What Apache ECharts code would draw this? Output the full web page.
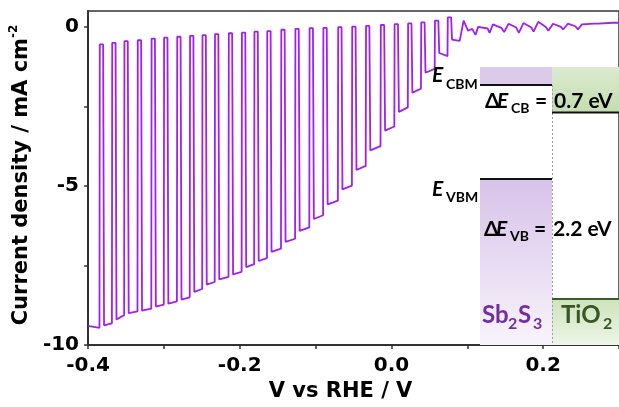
<!DOCTYPE html>
<html>
<head>
<meta charset="utf-8">
<script src="https://cdn.jsdelivr.net/npm/echarts@6/dist/echarts.min.js"></script>
<style>
  html, body { margin: 0; padding: 0; background: #fff; }
  #chart { width: 619px; height: 407px; }
</style>
</head>
<body>
<div id="chart"></div>
<script>
// Chopped-light scan of the Sb2S3/TiO2 photocathode.
// Potential (V vs RHE) at the centre of each dark interval.
const darkCentreV = [-0.3822, -0.3658, -0.3497, -0.3321, -0.3139, -0.2974, -0.2801, -0.2632, -0.2468,
  -0.2303, -0.2121, -0.1948, -0.1783, -0.1614, -0.1429, -0.1243, -0.1056, -0.0874, -0.0679, -0.0494,
  -0.0312, -0.0117, 0.0065, 0.0243, 0.0416, 0.0597, 0.0766];
// Dark current (mA cm-2) in each dark interval.
const darkJ = [-0.55, -0.50, -0.45, -0.42, -0.37, -0.34, -0.31, -0.28, -0.26, -0.23, -0.20, -0.18,
  -0.15, -0.13, -0.09, -0.06, -0.04, -0.03, -0.01, 0.01, 0.03, 0.06, 0.09, 0.11, 0.14, 0.20, 0.30];
// Photocurrent at the start and at the end of each illuminated interval.
const lightStartJ = [-9.40, -9.38, -9.20, -9.00, -8.92, -8.79, -8.70, -8.57, -8.33, -8.10, -7.94, -7.78,
  -7.55, -7.36, -7.07, -6.76, -6.41, -6.04, -5.58, -5.11, -4.50, -3.88, -3.26, -2.67, -2.07, -1.44,
  -0.82, -0.40];
const lightEndJ = [-9.46, -9.32, -9.06, -8.94, -8.86, -8.73, -8.63, -8.50, -8.24, -8.02, -7.86, -7.70,
  -7.46, -7.27, -6.97, -6.66, -6.30, -5.92, -5.46, -4.99, -4.37, -3.75, -3.13, -2.53, -1.94, -1.32,
  -0.92, -0.44];
// Small chopping transients past the onset potential.
const tailV = [0.0900, 0.0952, 0.1009, 0.1065, 0.1108, 0.1143, 0.1268, 0.1294, 0.1338, 0.1454, 0.1485,
  0.1545, 0.1645, 0.1680, 0.1740, 0.1844, 0.1874, 0.1935, 0.2035, 0.2069, 0.2130, 0.2234, 0.2264,
  0.2325, 0.2424, 0.2459, 0.2511, 0.2675, 0.2701, 0.2727, 0.2922, 0.3000];
const tailJ = [-0.44, 0.20, -0.12, -0.06, -0.25, 0.00, -0.05, -0.19, 0.08, -0.04, -0.16, 0.10, -0.02,
  -0.19, 0.12, -0.02, -0.15, 0.16, 0.00, -0.12, 0.10, 0.00, -0.08, 0.10, 0.02, -0.08, 0.08, 0.10,
  0.15, 0.10, 0.13, 0.13];

// Axis ticks and labels
const xTickValues = [-0.4, -0.3, -0.2, -0.1, 0.0, 0.1, 0.2, 0.3];
const xLabelValues = [-0.4, -0.2, 0.0, 0.2];
const yTickValues = [-10, -7.5, -5, -2.5, 0];
const yLabelValues = [-10, -5, 0];

// Extent of the dark window around each centre (V)
const riseBefore = 0.0025, topAfter = 0.0021, dropAfter = 0.0033;

const scan = [[-0.4, lightStartJ[0]]];
darkCentreV.forEach((c, i) => {
  scan.push([c - riseBefore - 0.0002, lightEndJ[i]]);
  scan.push([c - riseBefore + 0.0002, darkJ[i]]);
  scan.push([c + topAfter, darkJ[i]]);
  scan.push([c + dropAfter, lightStartJ[i + 1]]);
});
scan.push([tailV[0], lightEndJ[lightEndJ.length - 1]]);
tailV.slice(1).forEach((v, i) => scan.push([v, tailJ[i + 1]]));

const axisFont = { fontFamily: 'DejaVu Sans', fontWeight: 'bold', color: '#000' };
const insetFont = 'Lato, "Open Sans", sans-serif';

function txt(text, x, baseline, size, opts) {
  opts = opts || {};
  return {
    type: 'text', z: 20,
    style: {
      text: text, x: x, y: baseline - 0.32 * size,
      font: (opts.italic ? 'italic ' : '') + 'bold ' + size + 'px ' + insetFont,
      fill: opts.color || '#000', align: 'left', verticalAlign: 'middle'
    }
  };
}
function hline(x1, x2, y, color, w) {
  return { type: 'line', z: 15, shape: { x1: x1, y1: y, x2: x2, y2: y },
    style: { stroke: color, lineWidth: w } };
}
function grad(c1, c2) {
  return new echarts.graphic.LinearGradient(0, 0, 0, 1, [{ offset: 0, color: c1 }, { offset: 1, color: c2 }]);
}

const chart = echarts.init(document.getElementById('chart'), null, { renderer: 'canvas' });
chart.setOption({
  animation: false,
  backgroundColor: '#fff',
  grid: { left: 86, right: -6, top: 11, bottom: 58, show: true, borderColor: '#333', borderWidth: 1.5 },
  xAxis: {
    type: 'value', min: -0.4, max: 0.3,
    name: 'V vs RHE / V', nameLocation: 'middle', nameGap: 36,
    nameTextStyle: Object.assign({ fontSize: 21, padding: [0, 26, 0, 0] }, axisFont),
    axisLine: { show: true, onZero: false, lineStyle: { color: '#333', width: 2 } },
    axisTick: { show: true, length: 4, customValues: xTickValues, lineStyle: { color: '#333', width: 1.5 } },
    axisLabel: Object.assign({ fontSize: 20, margin: 11, customValues: xLabelValues,
      formatter: v => v.toFixed(1) }, axisFont),
    splitLine: { show: false }
  },
  yAxis: {
    type: 'value', min: -10, max: 0.5,
    name: '{t|Current density / mA cm}{s|-2}', nameLocation: 'middle', nameGap: 50,
    nameTextStyle: {
      padding: [0, 0, 0, 6],
      rich: {
        t: Object.assign({ fontSize: 21, lineHeight: 24, verticalAlign: 'bottom' }, axisFont),
        s: Object.assign({ fontSize: 12, lineHeight: 10, verticalAlign: 'top' }, axisFont)
      }
    },
    axisLine: { show: true, onZero: false, lineStyle: { color: '#333', width: 2 } },
    axisTick: { show: true, length: 4, customValues: yTickValues, lineStyle: { color: '#333', width: 1.5 } },
    axisLabel: Object.assign({ fontSize: 20, margin: 9, customValues: yLabelValues,
      formatter: v => String(v) }, axisFont),
    splitLine: { show: false }
  },
  series: [{
    type: 'line', data: scan, showSymbol: false, symbol: 'none', clip: true,
    lineStyle: { color: '#a020f0', width: 1.8 }, z: 5
  }],
  graphic: [
    // Band diagram inset
    { type: 'rect', z: 10, shape: { x: 480, y: 67, width: 72, height: 18 }, style: { fill: '#dccaeb' } },
    { type: 'rect', z: 10, shape: { x: 480, y: 179, width: 72, height: 166 },
      style: { fill: grad('#d7c2e9', '#f8f4fb') } },
    { type: 'rect', z: 10, shape: { x: 552, y: 67, width: 70, height: 45 },
      style: { fill: grad('#dbeacf', '#c4ddb0') } },
    { type: 'rect', z: 10, shape: { x: 552, y: 299, width: 70, height: 46 },
      style: { fill: grad('#cde3bc', '#eef6e8') } },
    { type: 'line', z: 12, shape: { x1: 552.5, y1: 85, x2: 552.5, y2: 345 },
      style: { stroke: '#a0a0a0', lineWidth: 1, lineDash: [2, 2] } },
    hline(480, 552, 85, '#111', 2),
    hline(552, 622, 112.5, '#111', 2),
    hline(480, 552, 179, '#111', 2),
    hline(552, 622, 299, '#3a5e28', 2),
    txt('E', 432, 82, 21, { italic: true }),
    txt('CBM', 446, 89, 14),
    txt('Δ', 485, 108, 21),
    txt('E', 497, 108, 21, { italic: true }),
    txt('CB', 511, 113, 14),
    txt('=', 535, 108, 21),
    txt('0.7 eV', 554, 108, 21),
    txt('E', 432, 196, 21, { italic: true }),
    txt('VBM', 446, 202, 14),
    txt('Δ', 484, 236, 21),
    txt('E', 496, 236, 21, { italic: true }),
    txt('VB', 510, 241, 14),
    txt('=', 534, 236, 21),
    txt('2.2 eV', 553, 236, 21),
    txt('Sb', 482, 323, 24, { color: '#7030a0' }),
    txt('2', 508, 329, 16, { color: '#7030a0' }),
    txt('S', 518, 323, 24, { color: '#7030a0' }),
    txt('3', 533, 329, 16, { color: '#7030a0' }),
    txt('TiO', 561, 323, 24, { color: '#385723' }),
    txt('2', 603, 329, 16, { color: '#385723' })
  ]
});
</script>
</body>
</html>
